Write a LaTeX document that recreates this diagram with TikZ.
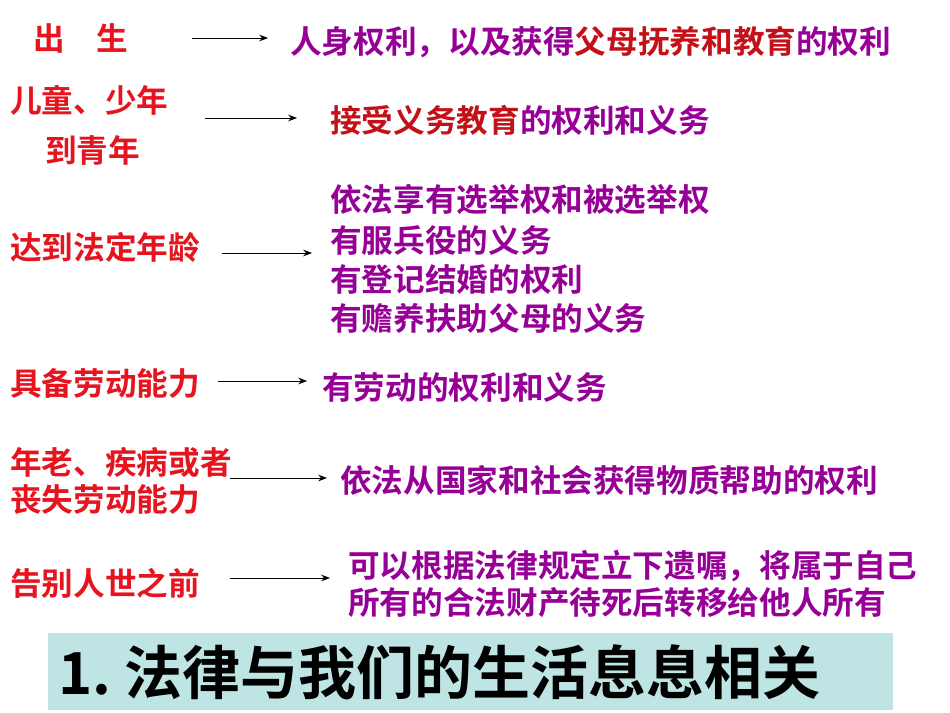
\documentclass[tikz,border=0pt]{standalone}
\usepackage{fontspec}
\newfontfamily\cjk{Noto Sans CJK SC Bold}
\usetikzlibrary{arrows.meta, positioning}
\definecolor{lifered}{RGB}{230,20,30}
\definecolor{rightpurple}{RGB}{150,0,150}
\definecolor{titlebg}{RGB}{190,228,228}
\tikzset{
  stage/.style={anchor=west, inner sep=0pt, text=lifered, font=\cjk\fontsize{18}{22}\selectfont},
  right/.style={anchor=west, inner sep=0pt, text=rightpurple, font=\cjk\fontsize{18}{22}\selectfont},
  link/.style={-{Stealth[length=5pt]}, thin}
}
\begin{document}
\begin{tikzpicture}[x=0.02cm, y=-0.02cm]
\useasboundingbox (0,0) rectangle (950,713);

\node[stage] (s1) at (33,38) {出\hspace{1em}生};
\coordinate (a1s) at (192,38);
\coordinate (a1e) at (268,38);
\draw[link] (a1s) -- (a1e);
\node[right] (r1) at (290,42) {人身权利，以及获得\textcolor{lifered!85!black}{父母抚养和教育}的权利};

\node[stage] (s2) at (10,100) {儿童、少年};
\node[stage] (s2b) at (45,150) {到青年};
\coordinate (a2s) at (205,118);
\coordinate (a2e) at (297,118);
\draw[link] (a2s) -- (a2e);
\node[right] (r2) at (330,120) {\textcolor{lifered!85!black}{接受义务教育}的权利和义务};

\node[stage] (s3) at (10,247) {达到法定年龄};
\coordinate (a3s) at (222,253);
\coordinate (a3e) at (312,253);
\draw[link] (a3s) -- (a3e);
\node[right] (r3a) at (330,200) {依法享有选举权和被选举权};
\node[right] (r3b) at (330,240) {有服兵役的义务};
\node[right] (r3c) at (330,280) {有登记结婚的权利};
\node[right] (r3d) at (330,318) {有赡养扶助父母的义务};

\node[stage] (s4) at (10,383) {具备劳动能力};
\coordinate (a4s) at (218,381);
\coordinate (a4e) at (307,381);
\draw[link] (a4s) -- (a4e);
\node[right] (r4) at (322,388) {有劳动的权利和义务};

\node[stage] (s5) at (10,462) {年老、疾病或者};
\node[stage] (s5b) at (10,500) {丧失劳动能力};
\coordinate (a5s) at (230,478);
\coordinate (a5e) at (327,478);
\draw[link] (a5s) -- (a5e);
\node[right] (r5) at (340,480) {依法从国家和社会获得物质帮助的权利};

\node[stage] (s6) at (10,583) {告别人世之前};
\coordinate (a6s) at (230,578);
\coordinate (a6e) at (330,578);
\draw[link] (a6s) -- (a6e);
\node[right] (r6a) at (348,566) {可以根据法律规定立下遗嘱，将属于自己};
\node[right] (r6b) at (348,603) {所有的合法财产待死后转移给他人所有};

\fill[titlebg] (48,633) rectangle (893,710);
\node[anchor=west, inner sep=0pt, font=\cjk\fontsize{33}{40}\selectfont] (title) at (58,672) {1.\ 法律与我们的生活息息相关};
\end{tikzpicture}
\end{document}
